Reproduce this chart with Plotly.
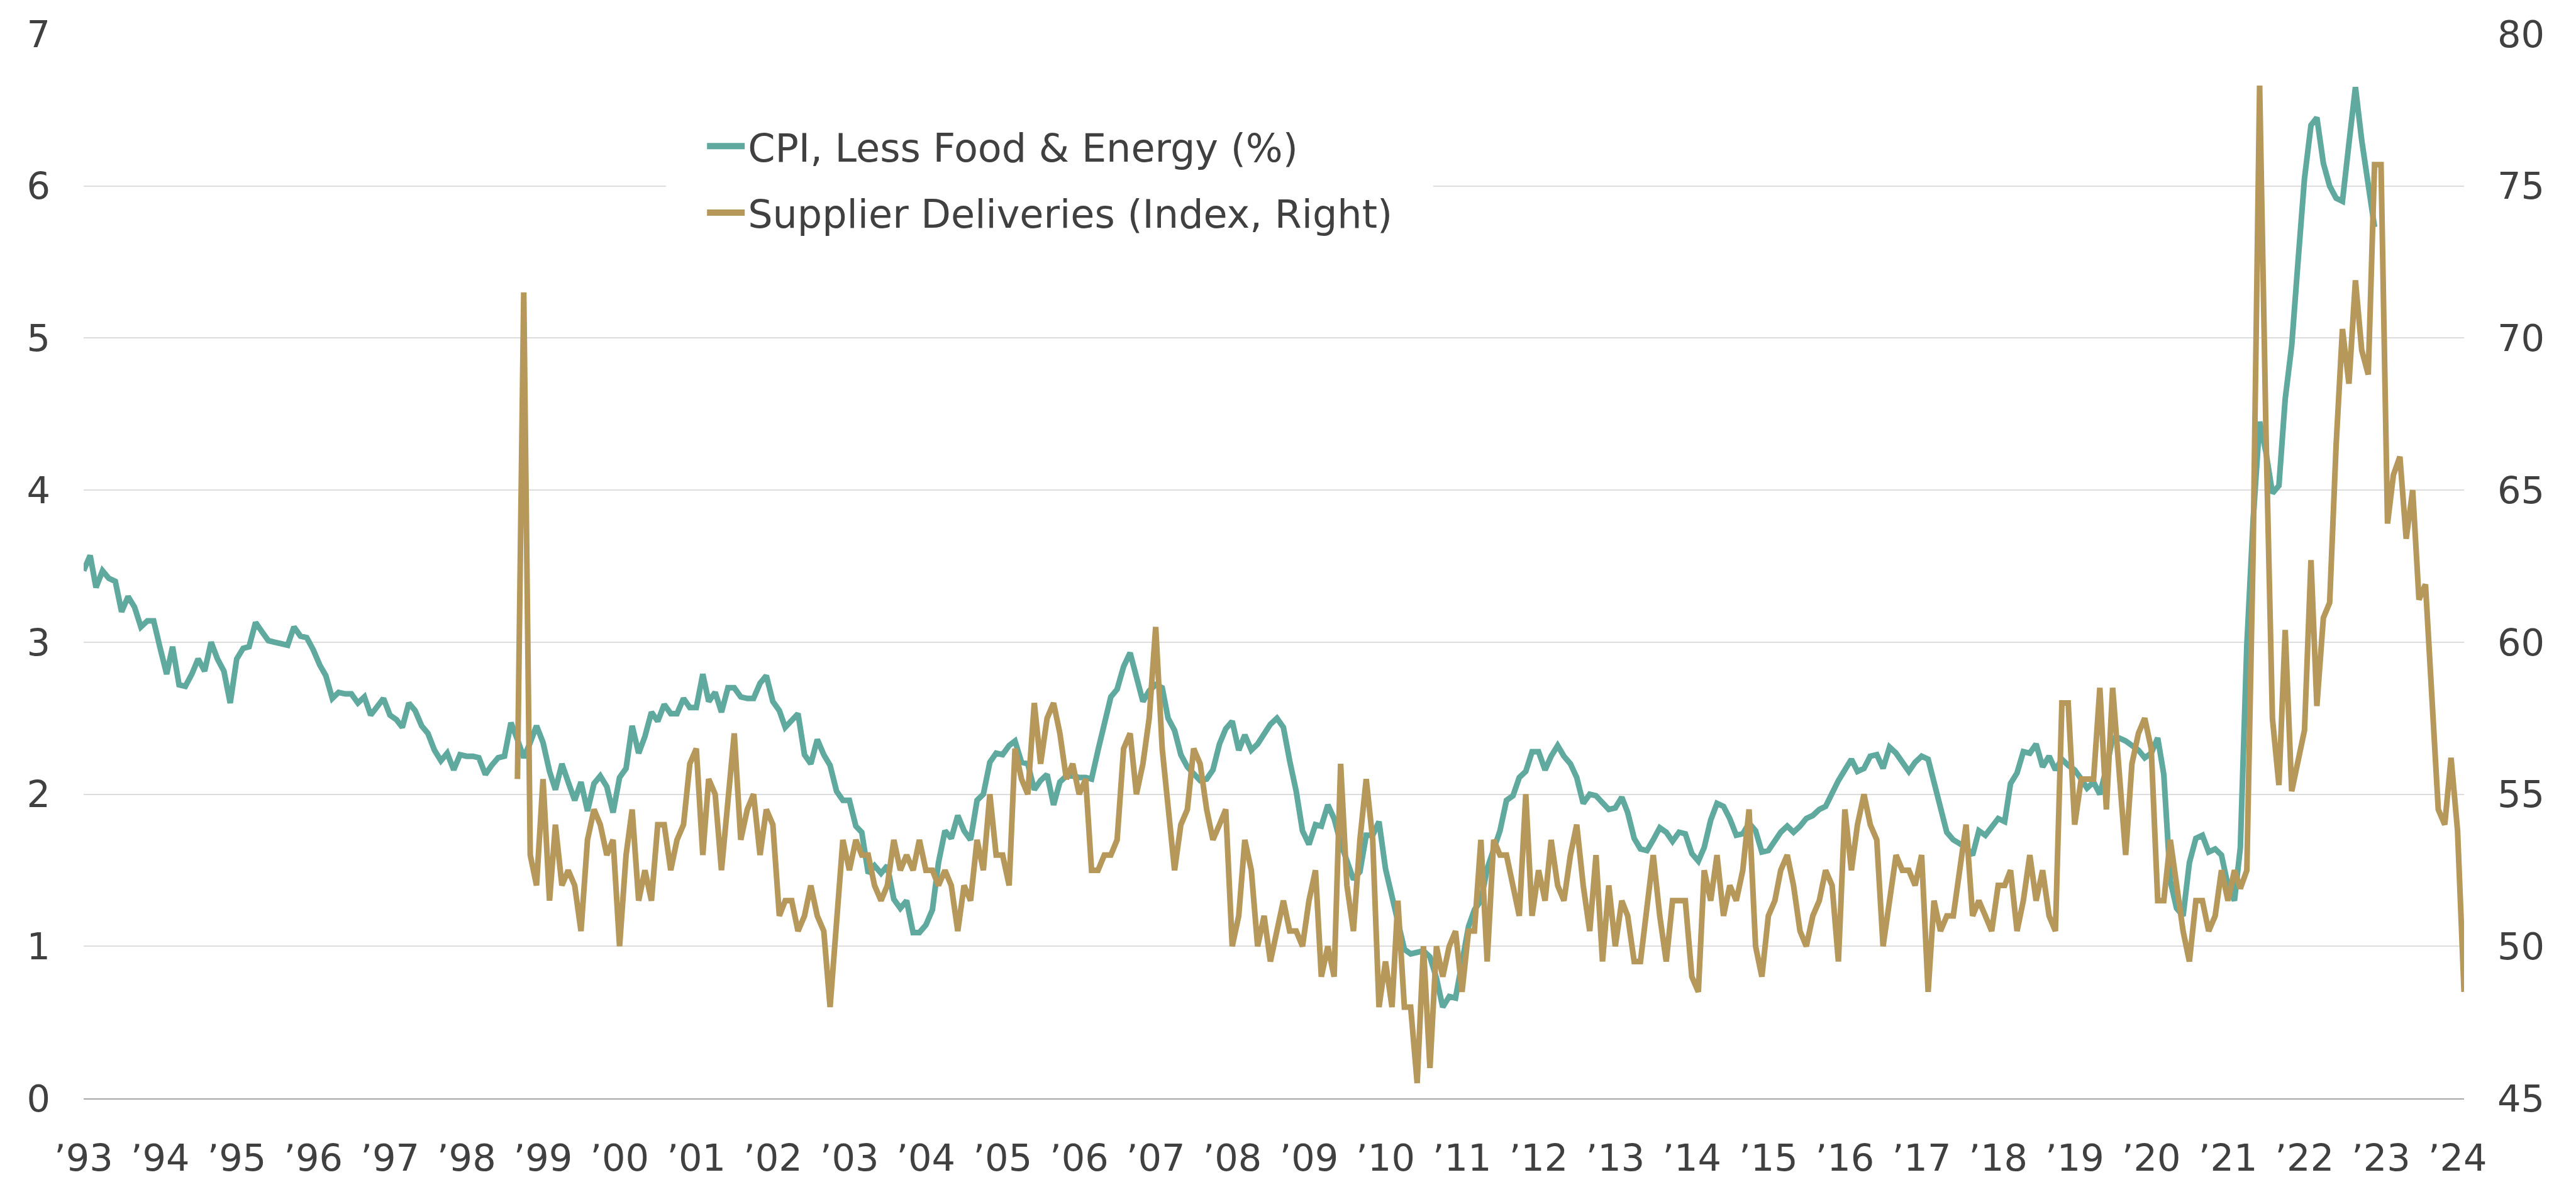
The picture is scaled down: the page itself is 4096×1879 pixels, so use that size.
import pandas as pd
import plotly.graph_objects as go

# ---------------- data ----------------
cpi_start = "1993-01-01"
cpi_values = [
    3.47, 3.57, 3.36, 3.47, 3.42, 3.40, 3.20, 3.30, 3.23, 3.10, 3.14, 3.14,  # 1993
    2.96, 2.79, 2.97, 2.72, 2.71, 2.79, 2.89, 2.81, 3.00, 2.89, 2.81, 2.60,  # 1994
    2.89, 2.96, 2.97, 3.13, 3.07, 3.01, 3.00, 2.99, 2.98, 3.10, 3.04, 3.03,  # 1995
    2.95, 2.85, 2.78, 2.63, 2.67, 2.66, 2.66, 2.60, 2.64, 2.52, 2.57, 2.63,  # 1996
    2.52, 2.49, 2.44, 2.60, 2.55, 2.45, 2.40, 2.29, 2.22, 2.27, 2.16, 2.26,  # 1997
    2.25, 2.25, 2.24, 2.13, 2.19, 2.24, 2.25, 2.47, 2.36, 2.24, 2.34, 2.45,  # 1998
    2.34, 2.15, 2.03, 2.20, 2.08, 1.96, 2.08, 1.89, 2.07, 2.12, 2.05, 1.88,  # 1999
    2.11, 2.17, 2.45, 2.27, 2.38, 2.54, 2.48, 2.59, 2.53, 2.53, 2.63, 2.57,  # 2000
    2.57, 2.79, 2.61, 2.67, 2.54, 2.70, 2.70, 2.64, 2.63, 2.63, 2.73, 2.78,  # 2001
    2.61, 2.55, 2.44, 2.49, 2.53, 2.26, 2.20, 2.36, 2.26, 2.19, 2.02, 1.96,  # 2002
    1.96, 1.79, 1.75, 1.48, 1.53, 1.48, 1.53, 1.31, 1.25, 1.30, 1.09, 1.09,  # 2003
    1.14, 1.24, 1.55, 1.76, 1.71, 1.86, 1.76, 1.70, 1.96, 2.00, 2.21, 2.27,  # 2004
    2.26, 2.32, 2.35, 2.21, 2.20, 2.03, 2.09, 2.13, 1.93, 2.08, 2.12, 2.12,  # 2005
    2.11, 2.11, 2.10, 2.29, 2.45, 2.64, 2.69, 2.84, 2.93, 2.76, 2.61, 2.68,  # 2006
    2.72, 2.70, 2.50, 2.42, 2.26, 2.18, 2.13, 2.09, 2.10, 2.16, 2.33, 2.43,  # 2007
    2.48, 2.29, 2.39, 2.29, 2.33, 2.40, 2.46, 2.50, 2.44, 2.22, 2.02, 1.76,  # 2008
    1.67, 1.80, 1.79, 1.93, 1.84, 1.68, 1.57, 1.44, 1.49, 1.73, 1.73, 1.82,  # 2009
    1.51, 1.32, 1.16, 0.98, 0.95, 0.96, 0.97, 0.93, 0.79, 0.60, 0.67, 0.66,  # 2010
    0.92, 1.13, 1.24, 1.30, 1.51, 1.65, 1.76, 1.96, 1.99, 2.11, 2.15, 2.28,  # 2011
    2.28, 2.16, 2.25, 2.32, 2.25, 2.20, 2.11, 1.94, 2.00, 1.99, 1.94, 1.90,  # 2012
    1.91, 1.98, 1.88, 1.71, 1.64, 1.63, 1.70, 1.78, 1.75, 1.69, 1.75, 1.74,  # 2013
    1.61, 1.56, 1.65, 1.83, 1.94, 1.92, 1.84, 1.73, 1.74, 1.81, 1.76, 1.62,  # 2014
    1.63, 1.70, 1.75, 1.79, 1.75, 1.79, 1.84, 1.86, 1.90, 1.92, 2.01, 2.09,  # 2015
    2.16, 2.23, 2.15, 2.17, 2.25, 2.26, 2.17, 2.31, 2.27, 2.21, 2.15, 2.21,  # 2016
    2.25, 2.23, 2.07, 1.89, 1.75, 1.70, 1.67, 1.65, 1.60, 1.76, 1.73, 1.78,  # 2017
    1.84, 1.82, 2.07, 2.14, 2.28, 2.27, 2.33, 2.18, 2.25, 2.16, 2.23, 2.19,  # 2018
    2.16, 2.10, 2.04, 2.08, 2.00, 2.17, 2.37, 2.37, 2.35, 2.32, 2.29, 2.24,  # 2019
    2.27, 2.37, 2.13, 1.43, 1.25, 1.20, 1.55, 1.71, 1.73, 1.62, 1.64, 1.60,  # 2020
    1.40, 1.30, 1.65, 2.98, 3.80, 4.45, 4.25, 3.98, 4.03, 4.60, 4.95, 5.50,  # 2021
    6.05, 6.40, 6.45, 6.15, 6.00, 5.92, 5.90, 6.28, 6.65, 6.30, 6.00, 5.73,  # 2022
]

supplier_start = "1998-09-01"
supplier_values = [
    55.5, 71.5, 53.0, 52.0,                                                  # 1998 (Sep-Dec)
    55.5, 51.5, 54.0, 52.0, 52.5, 52.0, 50.5, 53.5, 54.5, 54.0, 53.0, 53.5,  # 1999
    50.0, 53.0, 54.5, 51.5, 52.5, 51.5, 54.0, 54.0, 52.5, 53.5, 54.0, 56.0,  # 2000
    56.5, 53.0, 55.5, 55.0, 52.5, 54.8, 57.0, 53.5, 54.5, 55.0, 53.0, 54.5,  # 2001
    54.0, 51.0, 51.5, 51.5, 50.5, 51.0, 52.0, 51.0, 50.5, 48.0, 50.8, 53.5,  # 2002
    52.5, 53.5, 53.0, 53.0, 52.0, 51.5, 52.0, 53.5, 52.5, 53.0, 52.5, 53.5,  # 2003
    52.5, 52.5, 52.0, 52.5, 52.0, 50.5, 52.0, 51.5, 53.5, 52.5, 55.0, 53.0,  # 2004
    53.0, 52.0, 56.5, 55.5, 55.0, 58.0, 56.0, 57.5, 58.0, 57.0, 55.5, 56.0,  # 2005
    55.0, 55.5, 52.5, 52.5, 53.0, 53.0, 53.5, 56.5, 57.0, 55.0, 56.0, 57.5,  # 2006
    60.5, 56.5, 54.6, 52.5, 54.0, 54.5, 56.5, 56.0, 54.5, 53.5, 54.0, 54.5,  # 2007
    50.0, 51.0, 53.5, 52.5, 50.0, 51.0, 49.5, 50.6, 51.5, 50.5, 50.5, 50.0,  # 2008
    51.5, 52.5, 49.0, 50.0, 49.0, 56.0, 52.0, 50.5, 53.5, 55.5, 53.5, 48.0,  # 2009
    49.5, 48.0, 51.5, 48.0, 48.0, 45.5, 50.0, 46.0, 50.0, 49.0, 50.0, 50.5,  # 2010
    48.5, 50.5, 50.5, 53.5, 49.5, 53.5, 53.0, 53.0, 52.0, 51.0, 55.0, 51.0,  # 2011
    52.5, 51.5, 53.5, 52.0, 51.5, 53.0, 54.0, 52.0, 50.5, 53.0, 49.5, 52.0,  # 2012
    50.0, 51.5, 51.0, 49.5, 49.5, 51.4, 53.0, 51.0, 49.5, 51.5, 51.5, 51.5,  # 2013
    49.0, 48.5, 52.5, 51.5, 53.0, 51.0, 52.0, 51.5, 52.5, 54.5, 50.0, 49.0,  # 2014
    51.0, 51.5, 52.5, 53.0, 52.0, 50.5, 50.0, 51.0, 51.5, 52.5, 52.0, 49.5,  # 2015
    54.5, 52.5, 54.0, 55.0, 54.0, 53.5, 50.0, 51.5, 53.0, 52.5, 52.5, 52.0,  # 2016
    53.0, 48.5, 51.5, 50.5, 51.0, 51.0, 52.5, 54.0, 51.0, 51.5, 51.0, 50.5,  # 2017
    52.0, 52.0, 52.5, 50.5, 51.5, 53.0, 51.5, 52.5, 51.0, 50.5, 58.0, 58.0,  # 2018
    54.0, 55.5, 55.5, 55.5, 58.5, 54.5, 58.5, 55.5, 53.0, 56.0, 57.0, 57.5,  # 2019
    56.5, 51.5, 51.5, 53.5, 52.0, 50.5, 49.5, 51.5, 51.5, 50.5, 51.0, 52.5,  # 2020
    51.5, 52.5, 51.9, 52.5, 63.0, 78.3, 67.0, 57.5, 55.3, 60.4, 55.1, 56.2,  # 2021
    57.1, 62.7, 57.9, 60.8, 61.3, 66.5, 70.3, 68.5, 71.9, 69.6, 68.8, 75.7,  # 2022
    75.7, 63.9, 65.5, 66.1, 63.4, 65.0, 61.4, 61.9, 58.1, 54.5, 54.0, 56.2,  # 2023
    53.8, 48.5,                                                              # 2024 (Jan-Feb)
]

tick_years = list(range(1993, 2025))
tick_labels = ["\u2019" + str(y)[2:] for y in tick_years]

series_names = ["CPI, Less Food & Energy (%)", "Supplier Deliveries (Index, Right)"]
# -------------------------------------------------------------

cpi_dates = pd.date_range(cpi_start, periods=len(cpi_values), freq="MS")
sup_dates = pd.date_range(supplier_start, periods=len(supplier_values), freq="MS")
tick_vals = [pd.Timestamp(f"{y}-01-01") for y in tick_years]

TEAL = "#5FA99E"
GOLD = "#B7985B"
TXT = "#404040"
FONT = "DejaVu Sans"

fig = go.Figure()
fig.add_trace(go.Scatter(
    x=cpi_dates, y=cpi_values, name=series_names[0], mode="lines",
    line=dict(color=TEAL, width=9), yaxis="y", showlegend=False))
fig.add_trace(go.Scatter(
    x=sup_dates, y=supplier_values, name=series_names[1], mode="lines",
    line=dict(color=GOLD, width=9), yaxis="y2", showlegend=False))
# legend entries (thicker key lines as in the reference)
fig.add_trace(go.Scatter(
    x=[None], y=[None], name=series_names[0], mode="lines",
    line=dict(color=TEAL, width=12), yaxis="y", legendgroup="a"))
fig.add_trace(go.Scatter(
    x=[None], y=[None], name=series_names[1], mode="lines",
    line=dict(color=GOLD, width=12), yaxis="y2", legendgroup="b"))

fig.update_layout(
    width=4096, height=1879,
    margin=dict(l=125, r=186, t=44, b=107),
    paper_bgcolor="white", plot_bgcolor="white",
    font=dict(family=FONT, color=TXT, size=59),
    showlegend=True,
    legend=dict(
        x=0.2447, xanchor="left", y=0.9577, yanchor="top",
        bgcolor="white", bordercolor="white", borderwidth=60,
        font=dict(family=FONT, size=62, color=TXT),
        itemwidth=60, traceorder="grouped", tracegroupgap=22,
    ),
    xaxis=dict(
        type="date", range=[cpi_start, sup_dates[-1]],
        tickmode="array", tickvals=tick_vals, ticktext=tick_labels,
        showgrid=False, zeroline=False, showline=True,
        linecolor="#A6A6A6", linewidth=2, ticks="",
        tickfont=dict(family=FONT, size=59, color=TXT),
        ticklabelstandoff=42,
    ),
    yaxis=dict(
        range=[0, 7], dtick=1, tick0=0,
        showgrid=True, gridcolor="#DDDDDD", gridwidth=1.5,
        zeroline=False, showline=False, ticks="",
        tickfont=dict(family=FONT, size=59, color=TXT),
        ticklabelstandoff=52,
    ),
    yaxis2=dict(
        range=[45, 80], dtick=5, tick0=45,
        overlaying="y", side="right",
        showgrid=False, zeroline=False, showline=False, ticks="",
        tickfont=dict(family=FONT, size=59, color=TXT),
        ticklabelstandoff=52,
    ),
)

fig.write_html("out.html")
